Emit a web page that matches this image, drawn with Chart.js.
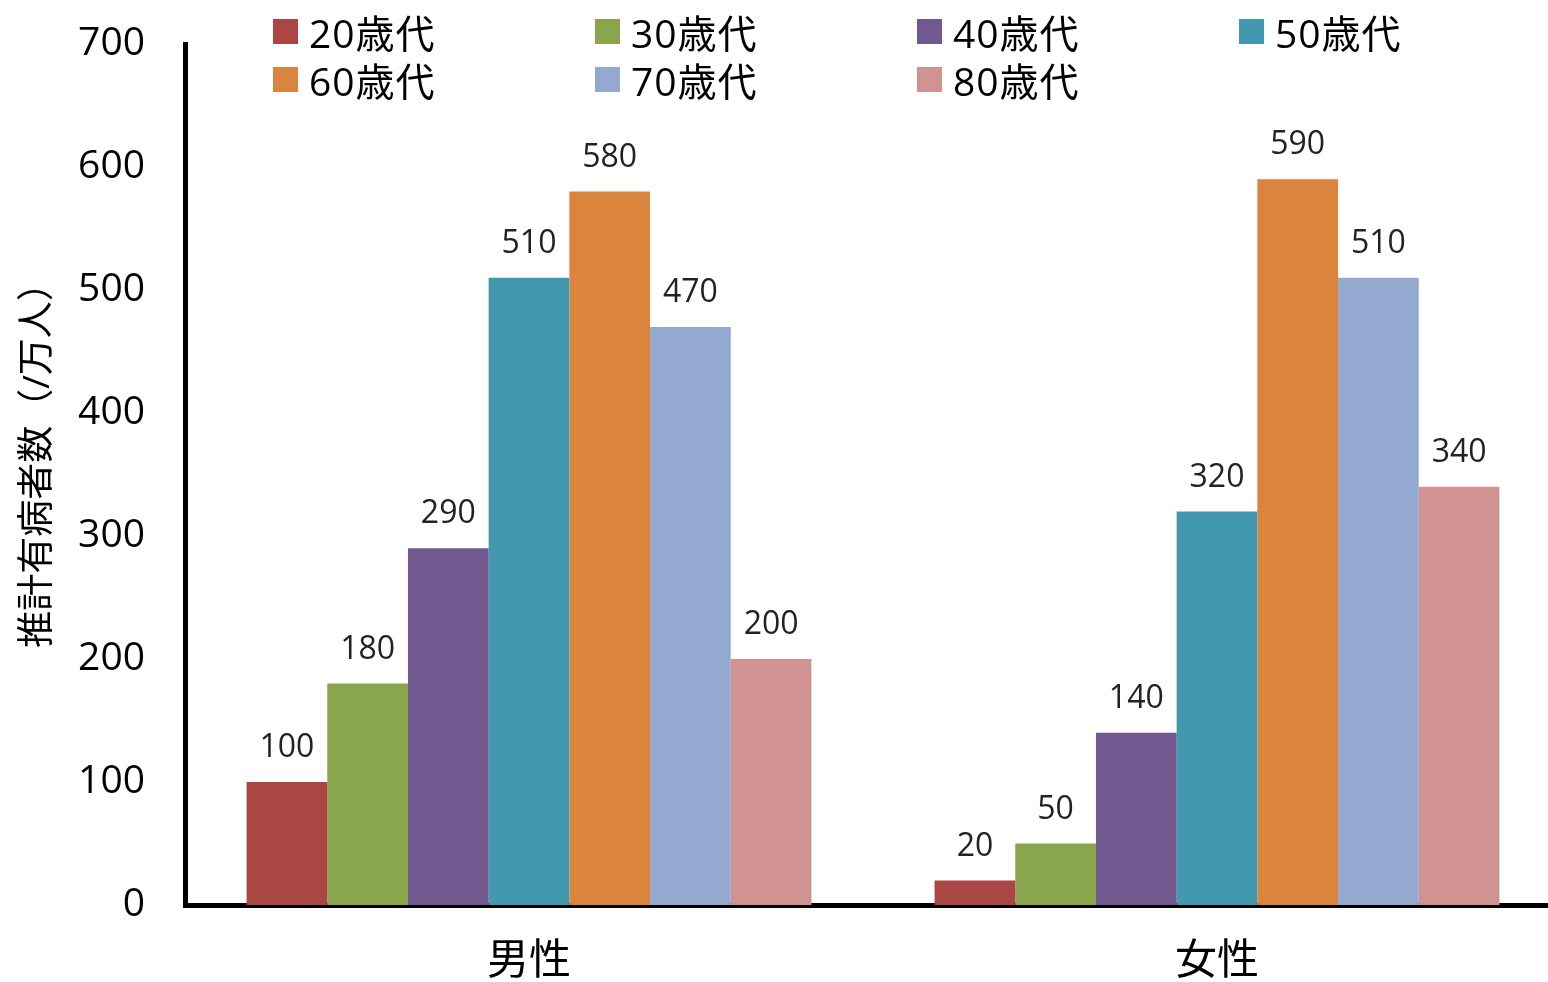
<!DOCTYPE html>
<html>
<head>
<meta charset="utf-8">
<script src="https://cdn.jsdelivr.net/npm/chart.js@4"></script>
<style>
  html, body { margin: 0; background: #fff; overflow: hidden; }
  #wrap { position: relative; width: 1548px; height: 982px; overflow: hidden; }
  #legend { position: absolute; left: 0; top: 0; width: 1548px; height: 110px; font-family: 'Open Sans', 'Noto Sans CJK JP', sans-serif; font-size: 39px; letter-spacing: 1px; color: #000; }
  .item { position: absolute; display: flex; align-items: center; height: 48px; }
  .box { width: 25px; height: 25px; margin-right: 11px; }
</style>
</head>
<body>
<div id="wrap">
  <canvas id="chart" width="1561" height="982"></canvas>
  <div id="legend"></div>
</div>
<script>
const categories = ["男性", "女性"];
const ageGroups = ["20歳代", "30歳代", "40歳代", "50歳代", "60歳代", "70歳代", "80歳代"];
const colors = ["#AA4643", "#89A54E", "#71588F", "#4198AF", "#DB843D", "#93A9CF", "#D19392"];
const age20 = [100, 20];
const age30 = [180, 50];
const age40 = [290, 140];
const age50 = [510, 320];
const age60 = [580, 590];
const age70 = [470, 510];
const age80 = [200, 340];
const yTicks = [0, 100, 200, 300, 400, 500, 600, 700];

const series = [age20, age30, age40, age50, age60, age70, age80];
const fontFamily = "'Open Sans', 'Noto Sans CJK JP', sans-serif";

// legend laid out in fixed columns like the original
const legend = document.getElementById("legend");
ageGroups.forEach((name, i) => {
    const el = document.createElement("div");
    el.className = "item";
    el.style.left = (273 + (i % 4) * 322) + "px";
    el.style.top = (7 + Math.floor(i / 4) * 48) + "px";
    el.innerHTML = '<span class="box" style="background:' + colors[i] + '"></span>' + name;
    legend.appendChild(el);
});

const valueLabels = {
    id: "valueLabels",
    afterDatasetsDraw(chart) {
        const ctx = chart.ctx;
        ctx.save();
        ctx.font = "32px " + fontFamily;
        ctx.fillStyle = "#222";
        ctx.textAlign = "center";
        ctx.textBaseline = "bottom";
        chart.data.datasets.forEach((ds, i) => {
            chart.getDatasetMeta(i).data.forEach((bar, j) => {
                ctx.fillText(ds.data[j], bar.x, bar.y - 18);
            });
        });
        ctx.restore();
    }
};

new Chart(document.getElementById("chart"), {
    type: "bar",
    data: {
        labels: categories,
        datasets: series.map((d, i) => ({
            label: ageGroups[i],
            data: d,
            backgroundColor: colors[i],
            categoryPercentage: 0.821,
            barPercentage: 1,
        })),
    },
    options: {
        responsive: false,
        animation: false,
        layout: { padding: { top: 44, right: 0, left: 0, bottom: 0 } },
        plugins: {
            legend: { display: false },
            tooltip: { enabled: false },
        },
        scales: {
            x: {
                grid: { display: false, drawTicks: false },
                border: { color: "#000", width: 5 },
                ticks: { color: "#000", font: { size: 42, family: fontFamily }, padding: 32 },
                afterFit: (s) => { s.height = 77; s.paddingLeft = 0; s.paddingRight = 0; },
            },
            y: {
                min: 0,
                max: 700,
                afterBuildTicks: (s) => { s.ticks = yTicks.map(v => ({ value: v })); },
                grid: { display: false, drawTicks: false },
                border: { color: "#000", width: 5 },
                ticks: { color: "#000", font: { size: 39, family: fontFamily }, padding: 40 },
                title: {
                    display: true,
                    text: "　推計有病者数（/万人）",
                    color: "#000",
                    font: { size: 37, family: fontFamily },
                    padding: { top: 16, bottom: 0 },
                },
                afterFit: (s) => { s.width = 185; s.paddingTop = 0; s.paddingBottom = 0; },
            },
        },
    },
    plugins: [valueLabels],
});
</script>
</body>
</html>
